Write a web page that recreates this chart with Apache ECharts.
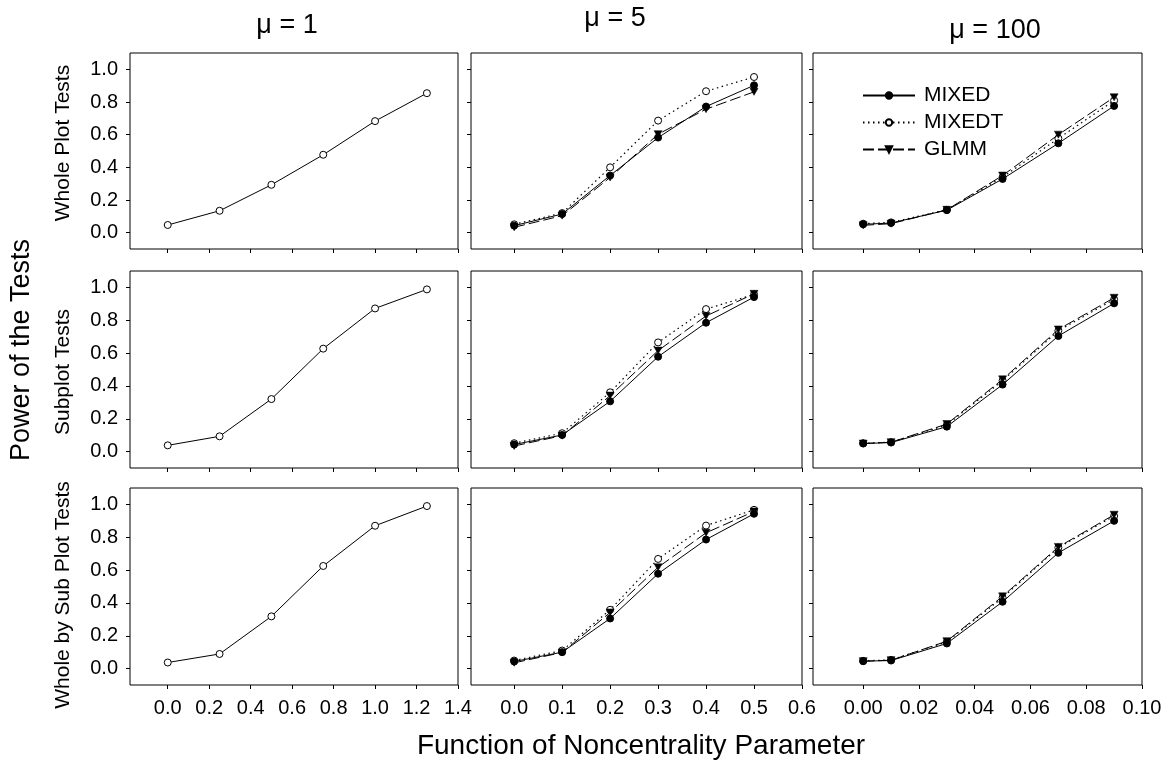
<!DOCTYPE html>
<html>
<head>
<meta charset="utf-8">
<script src="https://cdn.jsdelivr.net/npm/echarts@6/dist/echarts.min.js"></script>
<style>
html,body{margin:0;padding:0;background:#fff;}
#main{width:1172px;height:769px;}
</style>
</head>
<body>
<div id="main"></div>
<script>
// ---- data ----
var colTitles = ['\u03bc = 1', '\u03bc = 5', '\u03bc = 100'];
var rowTitles = ['Whole Plot Tests', 'Subplot Tests', 'Whole by Sub Plot Tests'];
var yTitle = 'Power of the Tests';
var xTitle = 'Function of Noncentrality Parameter';
var seriesNames = ['MIXED', 'MIXEDT', 'GLMM'];

var x1 = [0, 0.25, 0.5, 0.75, 1.0, 1.25];
var x5 = [0, 0.1, 0.2, 0.3, 0.4, 0.5];
var x100 = [0, 0.01, 0.03, 0.05, 0.07, 0.09];

var yTicks = [0, 0.2, 0.4, 0.6, 0.8, 1.0];
var xTicks1 = [0, 0.2, 0.4, 0.6, 0.8, 1.0, 1.2, 1.4];
var xTicks5 = [0, 0.1, 0.2, 0.3, 0.4, 0.5, 0.6];
var xTicks100 = [0, 0.02, 0.04, 0.06, 0.08, 0.10];

// mu = 1 (single curve)
var mu1Whole = [0.047, 0.134, 0.293, 0.477, 0.683, 0.854];
var mu1Sub   = [0.038, 0.093, 0.320, 0.627, 0.872, 0.988];
var mu1WxS   = [0.037, 0.089, 0.318, 0.625, 0.870, 0.990];

// mu = 5
var mu5WholeMixed  = [0.043, 0.114, 0.350, 0.582, 0.772, 0.902];
var mu5WholeMixedT = [0.051, 0.120, 0.400, 0.686, 0.866, 0.953];
var mu5WholeGlmm   = [0.033, 0.104, 0.338, 0.603, 0.756, 0.862];
var mu5SubMixed    = [0.043, 0.101, 0.306, 0.578, 0.785, 0.941];
var mu5SubMixedT   = [0.051, 0.112, 0.361, 0.665, 0.868, 0.957];
var mu5SubGlmm     = [0.034, 0.097, 0.341, 0.615, 0.826, 0.961];
var mu5WxSMixed    = [0.043, 0.100, 0.305, 0.578, 0.786, 0.943];
var mu5WxSMixedT   = [0.049, 0.110, 0.358, 0.668, 0.871, 0.967];
var mu5WxSGlmm     = [0.035, 0.098, 0.342, 0.617, 0.827, 0.957];

// mu = 100
var mu100WholeMixed  = [0.051, 0.059, 0.138, 0.329, 0.547, 0.776];
var mu100WholeMixedT = [0.055, 0.063, 0.140, 0.340, 0.577, 0.809];
var mu100WholeGlmm   = [0.045, 0.055, 0.140, 0.350, 0.600, 0.829];
var mu100SubMixed    = [0.049, 0.055, 0.152, 0.408, 0.704, 0.903];
var mu100SubMixedT   = [0.051, 0.057, 0.162, 0.432, 0.736, 0.927];
var mu100SubGlmm     = [0.049, 0.057, 0.168, 0.440, 0.744, 0.937];
var mu100WxSMixed    = [0.045, 0.049, 0.153, 0.407, 0.705, 0.900];
var mu100WxSMixedT   = [0.047, 0.053, 0.163, 0.432, 0.737, 0.929];
var mu100WxSGlmm     = [0.045, 0.051, 0.167, 0.440, 0.741, 0.937];

// ---- layout ----
var FONT = "'Liberation Sans', Arial, sans-serif";
var colLeft = [130, 471, 813];
var colWidth = [328, 331, 329];
var rowTop = [53, 271, 488];
var rowHeight = [196, 197, 197];
var xMin = [-0.182, -0.09, -0.018];
var xMax = [1.4, 0.6, 0.1];
var xTickSets = [xTicks1, xTicks5, xTicks100];
var xDigits = [1, 1, 2];
var xData = [x1, x5, x100];

var mu1Rows = [mu1Whole, mu1Sub, mu1WxS];
var multi = [
  [[mu5WholeMixed, mu5WholeMixedT, mu5WholeGlmm], [mu5SubMixed, mu5SubMixedT, mu5SubGlmm], [mu5WxSMixed, mu5WxSMixedT, mu5WxSGlmm]],
  [[mu100WholeMixed, mu100WholeMixedT, mu100WholeGlmm], [mu100SubMixed, mu100SubMixedT, mu100SubGlmm], [mu100WxSMixed, mu100WxSMixedT, mu100WxSGlmm]]
];

function zip(xs, ys) { return xs.map(function (x, i) { return [x, ys[i]]; }); }

var grids = [], xAxes = [], yAxes = [], series = [];
var tri = 'path://M0,0 L10,0 L5,9 Z';
var styles = {
  MIXED:  { symbol: 'circle', symbolSize: 7, itemStyle: { color: '#000', borderColor: '#000', borderWidth: 1 }, lineStyle: { color: '#000', width: 1, type: 'solid' }, z: 4 },
  MIXEDT: { symbol: 'circle', symbolSize: 7, itemStyle: { color: '#fff', borderColor: '#000', borderWidth: 1 }, lineStyle: { color: '#000', width: 1.2, type: [1.5, 3.5] }, z: 2 },
  GLMM:   { symbol: tri, symbolSize: [8, 7], itemStyle: { color: '#000', borderColor: '#000', borderWidth: 0.5 }, lineStyle: { color: '#000', width: 1, type: [11, 4] }, z: 3 }
};

for (var r = 0; r < 3; r++) {
  for (var c = 0; c < 3; c++) {
    var idx = grids.length;
    grids.push({
      left: colLeft[c], top: rowTop[r], width: colWidth[c], height: rowHeight[r],
      show: true, borderColor: '#000', borderWidth: 1, backgroundColor: 'transparent'
    });
    (function (c, r) {
      xAxes.push({
        type: 'value', gridIndex: idx, min: xMin[c], max: xMax[c],
        axisLine: { show: false, onZero: false },
        splitLine: { show: false },
        axisTick: { show: true, inside: false, length: 4, customValues: xTickSets[c], lineStyle: { color: '#000', width: 1 } },
        axisLabel: {
          show: r === 2, customValues: xTickSets[c], margin: 13,
          fontSize: 20, color: '#000', fontFamily: FONT,
          formatter: function (v) { return Number(v).toFixed(xDigits[c]); }
        }
      });
      yAxes.push({
        type: 'value', gridIndex: idx, min: -0.1, max: 1.1,
        axisLine: { show: false, onZero: false },
        splitLine: { show: false },
        axisTick: { show: true, inside: false, length: 4, customValues: yTicks, lineStyle: { color: '#000', width: 1 } },
        axisLabel: {
          show: c === 0, customValues: yTicks, margin: 12,
          fontSize: 20, color: '#000', fontFamily: FONT,
          formatter: function (v) { return Number(v).toFixed(1); }
        }
      });
    })(c, r);

    if (c === 0) {
      series.push({
        name: 'Power', type: 'line', xAxisIndex: idx, yAxisIndex: idx,
        data: zip(x1, mu1Rows[r]), symbol: 'circle', symbolSize: 7,
        itemStyle: { color: '#fff', borderColor: '#000', borderWidth: 1 },
        lineStyle: { color: '#000', width: 1 }, animation: false, silent: true
      });
    } else {
      var sets = multi[c - 1][r];
      [1, 2, 0].forEach(function (k) {
        var nm = seriesNames[k];
        var st = styles[nm];
        series.push({
          name: nm, type: 'line', xAxisIndex: idx, yAxisIndex: idx,
          data: zip(xData[c], sets[k]),
          symbol: st.symbol, symbolSize: st.symbolSize,
          itemStyle: st.itemStyle, lineStyle: st.lineStyle, z: st.z,
          animation: false, silent: true
        });
      });
    }
  }
}

var graphics = [
  { type: 'text', x: 287, y: 26, style: { text: colTitles[0], font: '27px ' + FONT, fill: '#000', textAlign: 'center', textVerticalAlign: 'middle' } },
  { type: 'text', x: 615, y: 19, style: { text: colTitles[1], font: '27px ' + FONT, fill: '#000', textAlign: 'center', textVerticalAlign: 'middle' } },
  { type: 'text', x: 995, y: 31, style: { text: colTitles[2], font: '27px ' + FONT, fill: '#000', textAlign: 'center', textVerticalAlign: 'middle' } },
  { type: 'text', x: 63, y: 143, rotation: Math.PI / 2, style: { text: rowTitles[0], font: '21px ' + FONT, fill: '#000', textAlign: 'center', textVerticalAlign: 'middle' } },
  { type: 'text', x: 63, y: 372, rotation: Math.PI / 2, style: { text: rowTitles[1], font: '21px ' + FONT, fill: '#000', textAlign: 'center', textVerticalAlign: 'middle' } },
  { type: 'text', x: 63, y: 595, rotation: Math.PI / 2, style: { text: rowTitles[2], font: '21px ' + FONT, fill: '#000', textAlign: 'center', textVerticalAlign: 'middle' } },
  { type: 'text', x: 22, y: 350, rotation: Math.PI / 2, style: { text: yTitle, font: '27px ' + FONT, fill: '#000', textAlign: 'center', textVerticalAlign: 'middle' } },
  { type: 'text', x: 641, y: 746, style: { text: xTitle, font: '28px ' + FONT, fill: '#000', textAlign: 'center', textVerticalAlign: 'middle' } }
];

var chart = echarts.init(document.getElementById('main'), null, { renderer: 'canvas' });
chart.setOption({
  backgroundColor: '#fff',
  animation: false,
  textStyle: { fontFamily: FONT },
  grid: grids,
  xAxis: xAxes,
  yAxis: yAxes,
  series: series,
  legend: {
    data: seriesNames, left: 857, top: 80, orient: 'vertical',
    itemWidth: 52, itemHeight: 8, itemGap: 6, selectedMode: false,
    textStyle: { fontSize: 21, color: '#000', fontFamily: FONT, padding: [0, 0, 0, 4] }
  },
  graphic: graphics
});
</script>
</body>
</html>
